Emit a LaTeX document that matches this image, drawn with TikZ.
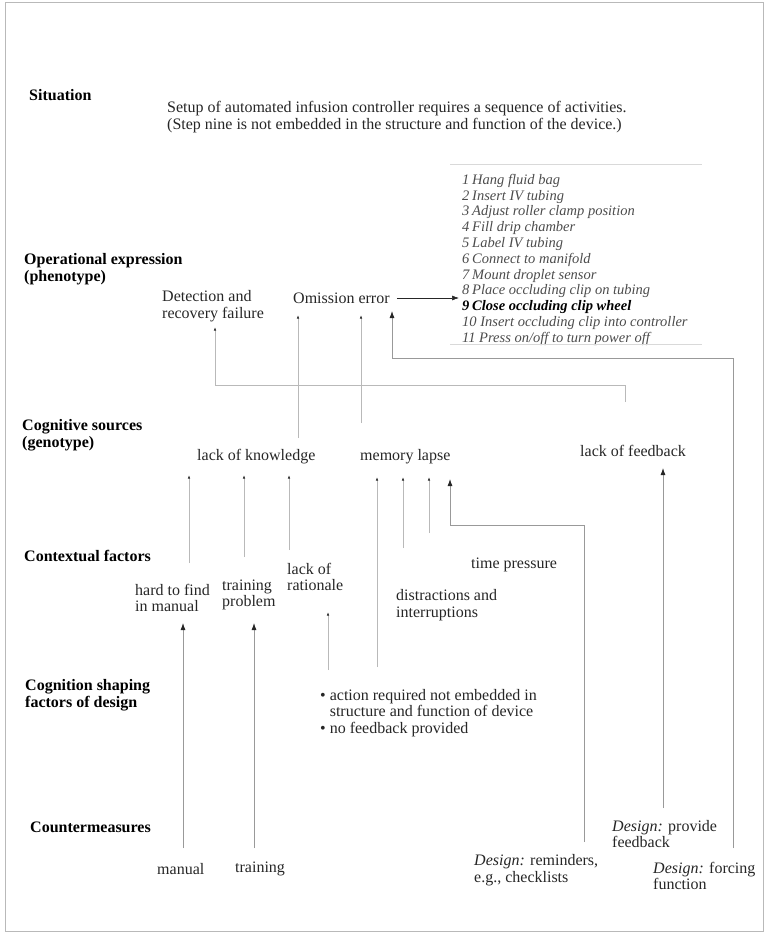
\documentclass[tikz,border=0pt]{standalone}
\usepackage{fontspec}
\setmainfont{Liberation Serif}
\usepackage{tikz}
\usetikzlibrary{positioning}
\usetikzlibrary{arrows.meta}
\tikzset{edge/.style = {-{Latex[length=7pt,width=5pt,color=black!85]}},
  dot edge/.style = {-{Latex[length=3.5pt,width=2.4pt,color=black!85]}}}

\begin{document}
\begin{tikzpicture}[x=1pt,y=-1pt,
  head/.style={anchor=west,inner sep=0pt,align=left,font=\bfseries\fontsize{16}{17}\selectfont},
  txt/.style={anchor=west,inner sep=0pt,align=left,text=black!85,font=\fontsize{16}{16.5}\selectfont},
  step node/.style={anchor=north west,inner sep=0pt,text height=11pt,text depth=4.4pt,text=black!70,font=\itshape\fontsize{14.5}{15.4}\selectfont},
  link/.style={color=gray!55,line width=0.7pt},
  main link/.style={color=gray!80,line width=0.8pt}]
  \useasboundingbox (0,0) rectangle (765,934);
  \draw[gray!55,line width=1pt] (5,3) rectangle (763,931);

  % row headings
  \node[head] (sit) at (29,95) {Situation};
  \node[head] (oper) at (24,269) {Operational expression\\(phenotype)};
  \node[head] (cogsrc) at (22,435) {Cognitive sources\\(genotype)};
  \node[head] (ctx) at (24,556) {Contextual factors};
  \node[head] (shape) at (25,695) {Cognition shaping\\factors of design};
  \node[head] (counter) at (30,827) {Countermeasures};

  % situation
  \node[txt] (setup) at (167,117) {Setup of automated infusion controller requires a sequence of activities.\\(Step nine is not embedded in the structure and function of the device.)};

  % sequence of steps
  \draw[gray!30] (450,164) -- (702,164);
  \node[step node] (s1) at (462,173) {\makebox[10pt][l]{1}Hang fluid bag};
  \node[step node] (s2) [below=0pt of s1.south west, anchor=north west] {\makebox[10pt][l]{2}Insert IV tubing};
  \node[step node] (s3) [below=0pt of s2.south west, anchor=north west] {\makebox[10pt][l]{3}Adjust roller clamp position};
  \node[step node] (s4) [below=0pt of s3.south west, anchor=north west] {\makebox[10pt][l]{4}Fill drip chamber};
  \node[step node] (s5) [below=0pt of s4.south west, anchor=north west] {\makebox[10pt][l]{5}Label IV tubing};
  \node[step node] (s6) [below=0pt of s5.south west, anchor=north west] {\makebox[10pt][l]{6}Connect to manifold};
  \node[step node] (s7) [below=0pt of s6.south west, anchor=north west] {\makebox[10pt][l]{7}Mount droplet sensor};
  \node[step node] (s8) [below=0pt of s7.south west, anchor=north west] {\makebox[10pt][l]{8}Place occluding clip on tubing};
  \node[step node,text=black,font=\bfseries\itshape\fontsize{14.5}{15.4}\selectfont] (s9) [below=0pt of s8.south west, anchor=north west] {\makebox[10pt][l]{9}Close occluding clip wheel};
  \node[step node] (s10) [below=0pt of s9.south west, anchor=north west] {10 Insert occluding clip into controller};
  \node[step node] (s11) [below=0pt of s10.south west, anchor=north west] {11 Press on/off to turn power off};
  \draw[gray!30] (450,344) -- (702,344);

  % phenotype
  \node[txt] (detect) at (162,306) {Detection and\\recovery failure};
  \node[txt] (omit) at (293,298) {Omission error};
  \draw[black!85,line width=0.6pt,edge,shorten <=7pt,shorten >=3pt] (omit.east) -- (omit.east -| s9.west);

  % genotype
  \node[txt] (knowl) at (197,457) {lack of knowledge};
  \node[txt] (memory) at (360,457) {memory lapse};
  \node[txt] (nofb) at (580,451) {lack of feedback};

  % contextual factors
  \node[txt] (hard) at (135,598) {hard to find\\in manual};
  \node[txt] (trainprob) at (222,595) {training\\problem};
  \node[txt] (ration) at (287,577) {lack of\\rationale};
  \node[txt] (distract) at (396,605) {distractions and\\interruptions};
  \node[txt] (timepr) at (471,565) {time pressure};

  % design factors
  \node[txt] (design) at (320,713) {\textbullet\ action required not embedded in\\\phantom{\textbullet\ }structure and function of device\\\textbullet\ no feedback provided};

  % countermeasures
  \node[txt] (manual) at (157,869) {manual};
  \node[txt] (training) at (235,869) {training};
  \node[txt] (remind) at (474,870) {\textit{Design:} reminders,\\e.g., checklists};
  \node[txt] (provide) at (612,834) {\textit{Design:} provide\\feedback};
  \node[txt] (forcing) at (653,876) {\textit{Design:} forcing\\function};

  % free ends of the connectors
  \coordinate (fbstub) at (625,402);
  \coordinate (detin) at (215,327);
  \coordinate (kn0) at (298,438);  \coordinate (om1) at (298,315);
  \coordinate (ml0) at (361,423);  \coordinate (om2) at (361,315);
  \coordinate (fo0) at (733,848);  \coordinate (om3) at (392,311);
  \coordinate (pf0) at (663,808);  \coordinate (fb1) at (663,468);
  \coordinate (rm0) at (584,842);  \coordinate (ml4) at (450,479);
  \coordinate (ds0) at (377,667);  \coordinate (ml1) at (377,477);
  \coordinate (di0) at (403,548);  \coordinate (ml2) at (403,477);
  \coordinate (di1) at (429,533);  \coordinate (ml3) at (429,477);
  \coordinate (hd0) at (189,563);  \coordinate (kn1) at (189,475);
  \coordinate (tp0) at (244,557);  \coordinate (kn2) at (244,475);
  \coordinate (ra0) at (289,550);  \coordinate (kn3) at (289,475);
  \coordinate (ds1) at (328,670);  \coordinate (ra1) at (328,612);
  \coordinate (mn0) at (183,848);  \coordinate (hd1) at (183,623);
  \coordinate (tr0) at (254,848);  \coordinate (tp1) at (254,623);

  \draw[link,dot edge] (fbstub) -- ++(0,-17) -| (detin);
  \path[link,dot edge] (kn0) edge (om1)
    (ml0) edge (om2)
    (ds0) edge (ml1)
    (di0) edge (ml2)
    (di1) edge (ml3)
    (hd0) edge (kn1)
    (tp0) edge (kn2)
    (ra0) edge (kn3)
    (ds1) edge (ra1);
  \draw[main link,edge] (fo0) -- ++(0,-490) -| (om3);
  \draw[main link,edge] (rm0) -- ++(0,-317) -| (ml4);
  \path[main link,edge] (pf0) edge (fb1)
    (mn0) edge (hd1)
    (tr0) edge (tp1);
\end{tikzpicture}
\end{document}
